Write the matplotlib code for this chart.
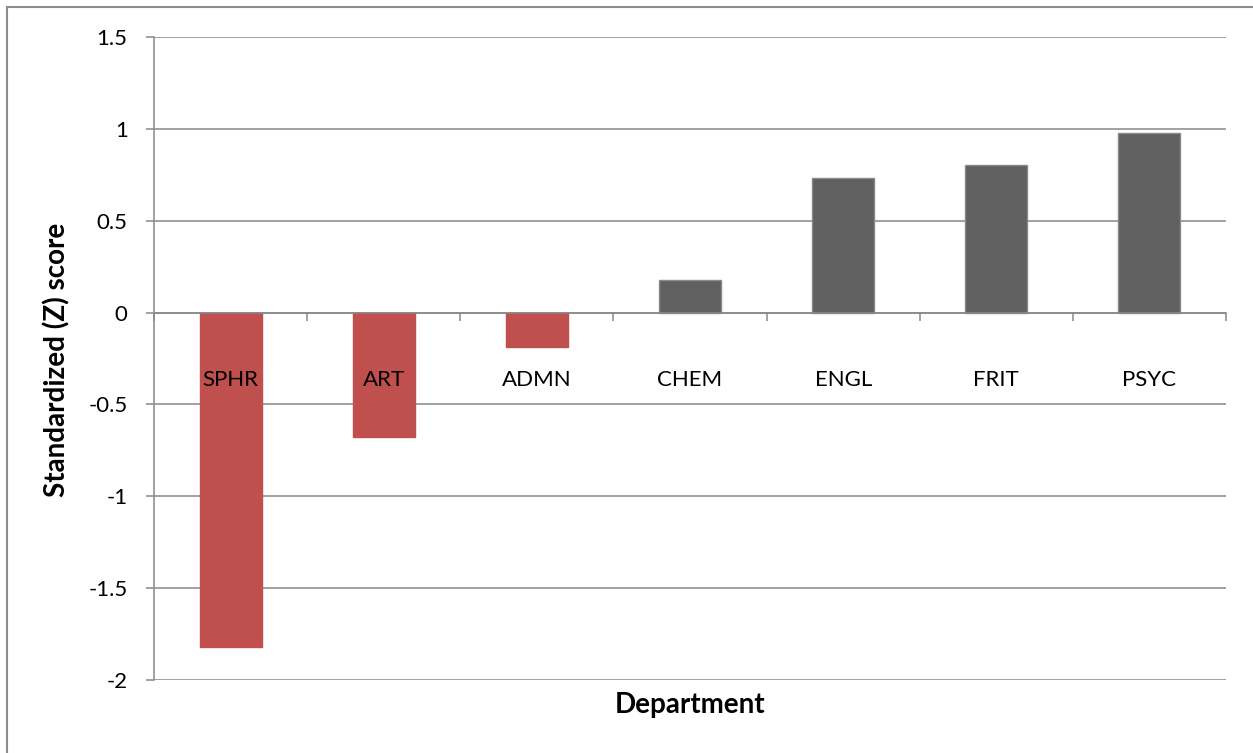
import numpy as np
import matplotlib.pyplot as plt
from matplotlib.patches import Rectangle

# datos
departamentos = ['SPHR', 'ART', 'ADMN', 'CHEM', 'ENGL', 'FRIT', 'PSYC']
z_score = [-1.82, -0.675, -0.185, 0.178, 0.735, 0.805, 0.98]
y_ticks = [-2, -1.5, -1, -0.5, 0, 0.5, 1, 1.5]
y_tick_labels = ['-2', '-1.5', '-1', '-0.5', '0', '0.5', '1', '1.5']

plt.rcParams['font.family'] = ['Lato', 'DejaVu Sans']

rojo = '#C0504D'
gris = '#606060'
linea = '#888888'

fig = plt.figure(figsize=(12.53, 7.53), dpi=100)
ax = fig.add_axes([154/1253, 73/753, 1072/1253, 643/753])

# marco exterior (solo se ve arriba e izquierda)
fig.patches.append(Rectangle((7/1253, -0.1), 1.2, (753-7)/753 + 0.1, transform=fig.transFigure,
                             fill=False, edgecolor='#8c8c8c', linewidth=1.5))

x = np.arange(len(departamentos))
colores = [rojo if v < 0 else gris for v in z_score]
bordes = [rojo if v < 0 else '#8a8a8a' for v in z_score]
ax.bar(x, z_score, width=0.405, color=colores, edgecolor=bordes, linewidth=1.0, zorder=3)

ax.set_xlim(-0.5, len(departamentos) - 0.5)
ax.set_ylim(-2, 1.5)
ax.set_yticks(y_ticks)
ax.set_yticklabels(y_tick_labels, fontsize=16)
ax.yaxis.grid(True, color=linea, linewidth=1.1, zorder=0)
ax.tick_params(axis='y', length=6, width=1.1, color=linea, pad=13)

# eje x en el cero
for s in ['top', 'right']:
    ax.spines[s].set_visible(False)
ax.spines['bottom'].set_position(('data', 0))
ax.spines['bottom'].set_color(linea)
ax.spines['bottom'].set_linewidth(1.1)
ax.spines['bottom'].set_zorder(4)
ax.spines['left'].set_color(linea)
ax.spines['left'].set_linewidth(1.1)

ax.set_xticks(np.arange(-0.5, len(departamentos), 1.0))
ax.set_xticklabels([])
ax.tick_params(axis='x', which='major', length=6, width=1.1, color=linea, direction='out')

# etiquetas de categoria encima de las barras
for i, nombre in enumerate(departamentos):
    ax.annotate(nombre, xy=(i, 0), xytext=(0, -41), textcoords='offset points',
                ha='center', va='top', fontsize=16, zorder=5)

fig.text(57/1253, 1 - 360/753, 'Standardized (Z) score', rotation=90, ha='center', va='center',
         fontsize=20, fontweight='bold')
fig.text(690/1253, 1 - 705/753, 'Department', ha='center', va='center',
         fontsize=20, fontweight='bold')

plt.savefig('out.png', dpi=100)
